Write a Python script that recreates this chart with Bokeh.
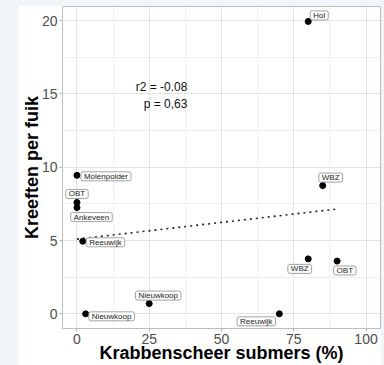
from bokeh.plotting import figure
from bokeh.models import ColumnDataSource, FixedTicker, Range1d
from bokeh.layouts import column
from bokeh.embed import file_html
from bokeh.resources import INLINE
from bokeh.core.properties import value

# ---- data ----
sites = ["Hol", "Molenpolder", "OBT", "Ankeveen", "Reeuwijk", "Nieuwkoop",
         "Nieuwkoop", "WBZ", "WBZ", "OBT", "Reeuwijk"]
submers = [80, 0, 0, 0, 2, 3, 25, 85, 80, 90, 70]
kreeften = [19.95, 9.45, 7.6, 7.25, 4.95, 0.0, 0.7, 8.75, 3.75, 3.6, 0.0]

trend_x = [0, 90]
trend_y = [5.1, 7.15]

stat_lines = ["r2 = -0.08", "p = 0,63"]

x_ticks = [0, 25, 50, 75, 100]
y_ticks = [0, 5, 10, 15, 20]

# label placement (screen pixel offsets, repel-style)
label_dx = [11, 29, 0, 14.5, 22.7, 26, 9, 8, -8.5, 7.7, -23]
label_dy = [-6, 1, -8.5, 9.5, 1, 2.5, -8, -8, 10, 9.4, 7.5]

# annotation placement
stat_x = [38.2, 38.2]
stat_y = [15.51, 14.29]

FONT = "Liberation Sans"

p = figure(width=363, height=360,
           x_range=Range1d(-5, 105), y_range=Range1d(-1, 20.97),
           output_backend="svg", toolbar_location=None,
           min_border_left=44, min_border_right=1,
           min_border_top=1, min_border_bottom=36,
           background_fill_color="white", border_fill_color="white",
           outline_line_color="#bdbdbd", outline_line_width=1,
           margin=(5, 3, 0, 18))

def mids(t):
    return [(a + b) / 2 for a, b in zip(t[:-1], t[1:])]

xt = FixedTicker(ticks=x_ticks, minor_ticks=mids(x_ticks))
yt = FixedTicker(ticks=y_ticks, minor_ticks=mids(y_ticks))
p.xaxis.ticker = xt
p.yaxis.ticker = yt
p.xgrid.ticker = xt
p.ygrid.ticker = yt

for g in (p.xgrid, p.ygrid):
    g.grid_line_color = "#e3e3e3"
    g.grid_line_width = 1
    g.minor_grid_line_color = "#efefef"
    g.minor_grid_line_width = 1

for ax in (p.xaxis, p.yaxis):
    ax.axis_line_color = None
    ax.major_tick_line_color = "#b3b3b3"
    ax.major_tick_out = 3
    ax.major_tick_in = 0
    ax.minor_tick_line_color = None
    ax.major_label_text_font = FONT
    ax.major_label_text_font_size = "14px"
    ax.major_label_text_color = "#4d4d4d"
    ax.major_label_standoff = 1
    ax.axis_label_text_font = FONT
    ax.axis_label_text_font_style = "bold"
    ax.axis_label_text_font_size = "18px"
    ax.axis_label_text_color = "black"

p.xaxis.axis_label_standoff = -4
p.yaxis.axis_label_standoff = -3

p.xaxis.axis_label = "Krabbenscheer submers (%)"
p.yaxis.axis_label = "Kreeften per fuik"

p.line(trend_x, trend_y, line_dash="2 4", line_width=1.6, line_color="#222222")

src = ColumnDataSource(dict(x=submers, y=kreeften, name=sites,
                            dx=label_dx, dy=label_dy))
p.scatter("x", "y", source=src, size=6, color="black")

p.text(x="x", y="y", text="name", source=src, x_offset="dx", y_offset="dy",
       text_align="center", text_baseline="middle",
       text_font=value(FONT), text_font_size="8px", text_color="#222222",
       background_fill_color="white", border_line_color="#8a8a8a",
       border_line_width=0.8, padding=(3, 0), border_radius=2)

p.text(x=stat_x, y=stat_y, text=stat_lines, text_align="right",
       text_baseline="middle", text_font=value(FONT), text_font_size="12px",
       text_color="#111111")

layout = column(p, styles={"background-color": "#f1f4f9"})

open("out.html", "w").write(file_html(layout, INLINE))
